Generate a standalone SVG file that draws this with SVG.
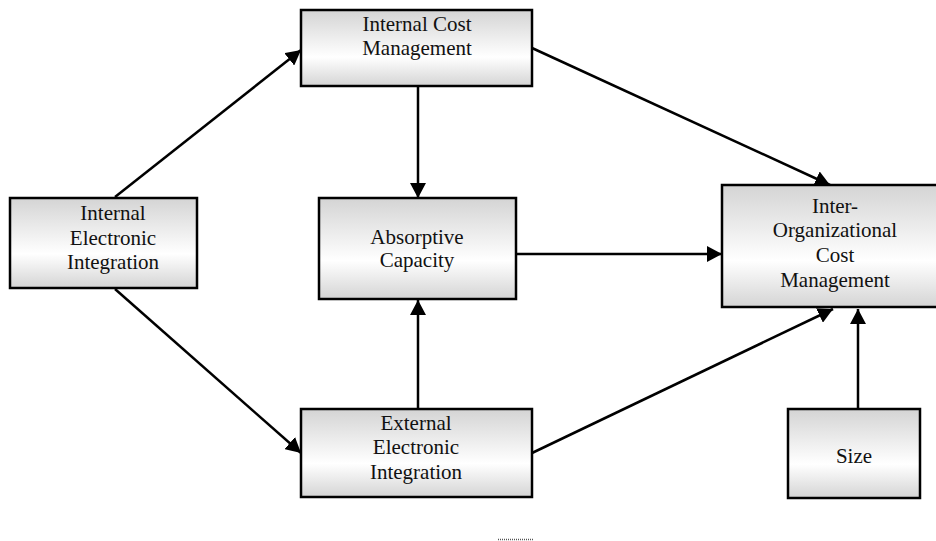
<svg xmlns="http://www.w3.org/2000/svg" width="936" height="541" viewBox="0 0 936 541">
<defs>
<linearGradient id="g" x1="0" y1="0" x2="0" y2="1">
<stop offset="0" stop-color="#d4d4d4"/>
<stop offset="0.62" stop-color="#ffffff"/>
<stop offset="1" stop-color="#d4d4d4"/>
</linearGradient>
<marker id="ah" viewBox="0 0 15 16" refX="15" refY="8" markerWidth="15" markerHeight="16" markerUnits="userSpaceOnUse" orient="auto">
<path d="M0,0 L15,8 L0,16 Z" fill="#000"/>
</marker>
<style>
.box{fill:url(#g);stroke:#000;stroke-width:2.5}
.t{font-family:"Liberation Serif","DejaVu Serif",serif;font-size:21px;fill:#111;text-anchor:middle}
.c{stroke:#000;stroke-width:2.5;fill:none;marker-end:url(#ah)}
</style>
</defs>
<rect width="936" height="541" fill="#fff"/>
<g id="connectors">
<line class="c" x1="115" y1="197" x2="301" y2="50"/>
<line class="c" x1="115" y1="289" x2="301" y2="453"/>
<line class="c" x1="418" y1="86" x2="418" y2="198"/>
<line class="c" x1="418" y1="409" x2="418" y2="300"/>
<line class="c" x1="516" y1="254" x2="722" y2="254"/>
<line class="c" x1="532" y1="48" x2="830" y2="185"/>
<line class="c" x1="532" y1="453" x2="833" y2="309"/>
<line class="c" x1="858" y1="409" x2="858" y2="309"/>
</g>
<g id="icm">
<rect class="box" x="301" y="10" width="231" height="76"/>
<text class="t" x="417" y="31" font-family="Liberation Serif, serif">Internal Cost</text>
<text class="t" x="417" y="55" font-family="Liberation Serif, serif">Management</text>
</g>
<g id="iei">
<rect class="box" x="10" y="198" width="187" height="90"/>
<text class="t" x="113" y="220">Internal</text>
<text class="t" x="113" y="245">Electronic</text>
<text class="t" x="113" y="269">Integration</text>
</g>
<g id="ac">
<rect class="box" x="319" y="198" width="197" height="101"/>
<text class="t" x="417" y="244">Absorptive</text>
<text class="t" x="417" y="267">Capacity</text>
</g>
<g id="iocm">
<rect class="box" x="722" y="185" width="216" height="122"/>
<text class="t" x="835" y="213">Inter-</text>
<text class="t" x="835" y="237">Organizational</text>
<text class="t" x="835" y="262">Cost</text>
<text class="t" x="835" y="287">Management</text>
</g>
<g id="eei">
<rect class="box" x="301" y="409" width="231" height="88"/>
<text class="t" x="416" y="430">External</text>
<text class="t" x="416" y="454">Electronic</text>
<text class="t" x="416" y="479">Integration</text>
</g>
<g id="size">
<rect class="box" x="788" y="409" width="132" height="89"/>
<text class="t" x="854" y="463">Size</text>
</g>
<line x1="498" y1="539.5" x2="533" y2="539.5" stroke="#555" stroke-width="1.5" stroke-dasharray="1,1"/>
</svg>
